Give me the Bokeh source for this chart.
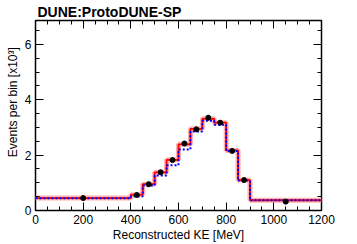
import numpy as np
from bokeh.plotting import figure
from bokeh.models import FixedTicker, LinearAxis, Range1d
from bokeh.embed import file_html
from bokeh.resources import INLINE

edges = [0, 400, 450, 500, 550, 600, 650, 700, 750, 800, 850, 900, 1200]
mc_red = [0.45, 0.57, 0.95, 1.38, 1.83, 2.39, 2.95, 3.31, 3.17, 2.17, 1.10, 0.37]
mc_blue = [0.44, 0.51, 0.90, 1.26, 1.63, 2.20, 2.85, 3.24, 3.10, 2.15, 1.08, 0.37]
data_y = [0.45, 0.56, 0.95, 1.38, 1.82, 2.42, 2.93, 3.35, 3.17, 2.15, 1.10, 0.32]
data_x = [200, 425, 475, 525, 575, 625, 675, 725, 775, 825, 875, 1050]
x_ticks = [0, 200, 400, 600, 800, 1000, 1200]
y_ticks = [0, 2, 4, 6]

FONT = "Liberation Sans"

p = figure(width=357, height=244, output_backend="svg", toolbar_location=None,
           x_range=Range1d(0, 1200), y_range=Range1d(0, 6.86),
           min_border_left=35, min_border_right=36, min_border_top=19, min_border_bottom=33)
p.outline_line_color = "black"
p.outline_line_width = 1.5
p.xgrid.visible = False
p.ygrid.visible = False
p.background_fill_color = "white"
p.border_fill_color = "white"

p.title.text = "DUNE:ProtoDUNE-SP"
p.title.align = "left"
p.title.offset = 2
p.title.text_font = FONT
p.title.text_font_size = "14px"
p.title.text_font_style = "bold"
p.title.text_color = "black"
p.title.standoff = 2

xt = FixedTicker(ticks=x_ticks, minor_ticks=list(range(0, 1201, 50)))
yt = FixedTicker(ticks=y_ticks, minor_ticks=list(np.arange(0, 7.0, 0.5)))

for ax in [p.xaxis[0], p.yaxis[0]]:
    ax.major_tick_in = 8
    ax.major_tick_out = 0
    ax.minor_tick_in = 4
    ax.minor_tick_out = 0
    ax.axis_line_color = None
    ax.major_label_text_font = FONT
    ax.major_label_text_font_size = "12px"
    ax.major_label_text_color = "black"
    ax.axis_label_text_font = FONT
    ax.axis_label_text_font_size = "12px"
    ax.axis_label_text_font_style = "normal"
    ax.axis_label_text_color = "black"
    ax.major_tick_line_color = "black"
    ax.minor_tick_line_color = "black"
p.xaxis[0].ticker = xt
p.yaxis[0].ticker = yt
p.xaxis[0].axis_label = "Reconstructed KE [MeV]"
p.xaxis[0].axis_label_standoff = 1
p.xaxis[0].major_label_standoff = 4
p.yaxis[0].major_label_standoff = 4
p.yaxis[0].axis_label = "\u00a0" * 8 + "Events per bin [x10³]"
p.yaxis[0].axis_label_standoff = 2

top = LinearAxis(ticker=xt, major_label_text_font_size="0px", major_tick_in=8, major_tick_out=0,
                 minor_tick_in=4, minor_tick_out=0, axis_line_color=None, major_label_standoff=0)
right = LinearAxis(ticker=yt, major_label_text_font_size="0px", major_tick_in=8, major_tick_out=0,
                   minor_tick_in=4, minor_tick_out=0, axis_line_color=None, major_label_standoff=0)
p.add_layout(top, "above")
p.add_layout(right, "right")

red_y = mc_red + [mc_red[-1]]
blue_y = mc_blue + [mc_blue[-1]]
p.step(edges, red_y, mode="after", line_color="#ffb0b0", line_width=5)
p.step(edges, red_y, mode="after", line_color="red", line_width=1.8)
p.step(edges, blue_y, mode="after", line_color="blue", line_width=2, line_dash="2 2")
p.scatter(data_x, data_y, size=5, color="black")

open("out.html", "w").write(file_html(p, INLINE))
